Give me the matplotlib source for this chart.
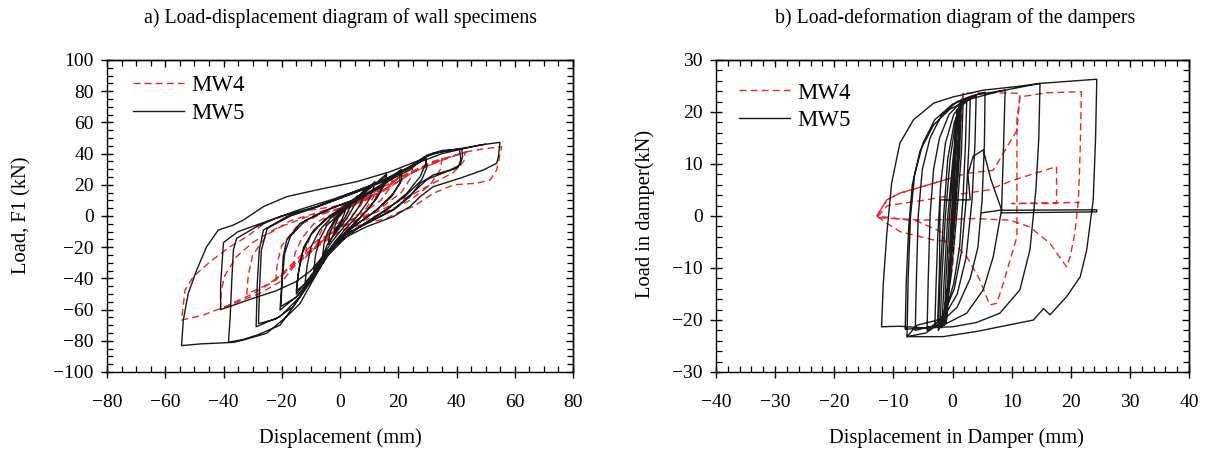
import matplotlib
matplotlib.use("Agg")
import matplotlib.pyplot as plt
from matplotlib.ticker import MultipleLocator, NullFormatter

plt.rcParams['font.family'] = ['Liberation Serif', 'DejaVu Serif']
plt.rcParams['axes.linewidth'] = 1.0

# ---------------- data: (displacement mm, load kN) traces ----------------
# a) wall specimens
wall_mw5 = [
    (0, 0), (1, 3), (2, 5.5), (1.6, 2), (0.5, -3), (-1, -7), (-2, -10), (-1.7, -6), (-0.8, -2), (0, 1),
    (2.5, 6.5), (4, 9.5), (3.5, 6), (2, 0), (0, -6), (-2, -11), (-4, -18), (-3.6, -12), (-2.5, -6), (-1, -1), (1, 3.5),
    (3, 7), (6, 13), (5.4, 8.5), (3.5, 2), (1, -5), (-2, -12), (-4.5, -19), (-6, -26), (-5.5, -18), (-4.2, -10), (-2, -3), (0, 1.5), (2, 5),
    (5, 10), (9, 18), (8.3, 13), (6.5, 6), (3.5, -2), (0, -10), (-3, -17), (-6, -26), (-9, -35), (-8.4, -25), (-7, -15), (-4.5, -6), (-1, 0), (3, 6),
    (7, 13), (12, 22), (11.3, 16.5), (9.5, 9), (6, 0), (2, -8), (-2, -17), (-6, -28), (-9.5, -37), (-12, -43), (-11.3, -32), (-10, -20), (-7, -9), (-3, -1), (2, 5),
    (8, 14), (16, 27), (15.2, 21), (13, 13), (9.5, 4), (5, -5), (0, -14), (-5, -26), (-10, -39), (-15, -50), (-14.4, -38), (-13, -24), (-10, -12), (-5, -2), (1, 6),
    (8, 15), (16, 26), (15.2, 20), (12.5, 11), (8, 1), (3, -8), (-2, -18), (-7, -31), (-11, -42), (-15, -48), (-14.2, -35), (-12.5, -20), (-9, -9), (-4, -1), (2, 6),
    (8, 12), (14, 19), (21, 30), (21.2, 23), (18.3, 14.5), (12.6, 3.8), (4.6, -6.8), (-3.4, -21.8), (-9.2, -38.9), (-14.9, -51.7), (-20.6, -60.3),
    (-20, -43), (-19.5, -26), (-18.3, -15.4), (-13.7, -4.7), (-4.6, 3.8), (4.6, 10.3),
    (13.7, 18), (20.5, 28), (20.6, 21), (17.5, 12), (11, 1.5), (3, -9), (-4.5, -24), (-10, -41), (-15, -52), (-20.3, -58),
    (-19.8, -40), (-19, -24), (-17, -13), (-12, -3), (-3, 5), (6, 11),
    (14.9, 21), (24, 29.5), (29.2, 38), (29.5, 33.8), (27.5, 25.2), (22.9, 14.5), (16, 3.8), (6.9, -6.8), (-2.3, -19.7), (-8, -34.6),
    (-13.7, -51.7), (-20.6, -64.5), (-28.8, -71), (-28.4, -43), (-27.7, -21.8), (-26.3, -9), (-18.3, -0.4), (-8, 6), (4.6, 14.5),
    (14.9, 22), (24, 31), (29.5, 37), (29.8, 31), (28, 23), (22, 12), (14, 2), (4, -10), (-4, -25), (-10, -42), (-16, -58), (-22, -66),
    (-28, -69), (-27.6, -45), (-27, -22), (-25, -8), (-17, 0), (-6, 7), (5, 15),
    (14.9, 23), (24, 31.6), (29.8, 39), (35, 42), (41.8, 43), (42.1, 38), (41.2, 32.7), (37.8, 29.5), (32, 26.3), (27.5, 21), (24, 12.4),
    (18.3, 3.8), (9.2, -4.7), (0, -13.3), (-5.7, -26), (-10.3, -41), (-16, -58), (-20.6, -70), (-28, -76), (-33, -79), (-38.3, -81),
    (-37.7, -64.6), (-37.2, -43), (-36.6, -21.8), (-35.5, -14.3), (-28.6, -6.8), (-20.6, -0.4), (-8, 6), (3.4, 14.5), (14.9, 23),
    (24, 31.6), (30, 38.5), (35.5, 41.5), (41, 43),
    (41.5, 36), (40.5, 31), (36, 28), (30, 23.5), (25, 15), (19, 5), (10, -4), (1, -13), (-5, -24), (-10, -35), (-15, -42), (-22, -48),
    (-28.6, -52), (-41, -60), (-41, -45), (-40.5, -30), (-40, -17), (-35, -10), (-26, -4), (-14, 4), (-2, 11), (10, 19), (20, 27),
    (28, 35), (35, 40), (42, 43),
    (48, 45.5), (54.9, 47.2), (54.4, 38), (53.8, 33.8), (49.2, 29.5), (41.2, 24.2), (32, 18.8), (27.5, 12.4), (24, 6), (18.3, -0.4),
    (9.2, -6.8), (0, -15.4), (-4.6, -26), (-9.2, -41), (-13.7, -56), (-18.3, -64.5), (-25.2, -75.2), (-33.2, -79.5), (-36.6, -81),
    (-48, -82), (-54.4, -83.1), (-53.8, -66.7), (-52.1, -49.6), (-49.2, -34.6), (-45.8, -19.7), (-41.8, -9), (-36.6, -5.8),
    (-33.2, -2.6), (-26.3, 6), (-18.3, 12.4), (-8, 16.7), (5.7, 22), (17.2, 28.4), (27.5, 35.9), (32, 40.2), (41.2, 43.2), (50, 46),
]

wall_mw4 = [
    (0, 0), (2, 4), (4, 7), (3.5, 4), (1.5, -1), (-1, -5), (-3, -9), (-4, -12), (-3.5, -8), (-2, -3), (0, 1), (2, 4),
    (5, 8), (8, 12), (7.5, 8), (5, 2), (1, -4), (-3, -10), (-6, -16), (-8, -20), (-7.5, -14), (-6, -8), (-3, -2), (1, 3), (5, 7),
    (9, 12), (12, 17), (11.5, 12), (9, 5), (4, -2), (-1, -8), (-6, -16), (-10, -23), (-12, -27), (-11.5, -20), (-10, -12), (-6, -4), (-1, 2), (5, 7),
    (12, 14), (18, 25), (17.5, 19), (14, 10), (8, 2), (1, -6), (-5, -14), (-11, -24), (-16, -32), (-15.5, -24), (-13, -14), (-9, -5), (-3, 1), (6, 8),
    (15, 17), (25, 32), (24.5, 25), (21, 15), (14, 5), (5, -3), (-4, -12), (-11, -23), (-17, -33), (-22, -40), (-21.5, -30), (-20, -19),
    (-15, -7), (-8, 0), (2, 6), (12, 12),
    (20, 24), (28, 31), (35, 37), (34.5, 30), (31, 20), (24, 10), (15, 2), (5, -5), (-5, -15), (-13, -28), (-20, -38), (-26, -45), (-32, -50),
    (-31.5, -38), (-30, -25), (-25, -12), (-17, -3), (-8, 2), (3, 8), (15, 16),
    (25, 28), (34, 35), (43, 41), (42.5, 35), (39, 28), (31, 20), (22, 11), (12, 2), (2, -6), (-8, -16), (-15, -28), (-22, -41), (-30, -50),
    (-36, -55), (-41, -60), (-40.8, -48), (-39.5, -38), (-35.5, -26), (-30, -17), (-22, -8), (-12, -1), (0, 5), (12, 13), (25, 28), (35, 36), (43, 41),
    (49, 43), (55.5, 44.4), (53.8, 29.5), (51.5, 23), (46.9, 21), (39, 20), (32, 14.5), (25.2, 6), (20.6, 2.8), (16, -1.5), (8, -5), (0, -10),
    (-8, -20), (-14.9, -30.3), (-19.5, -41), (-27.5, -49.6), (-37.8, -57), (-46.9, -63.5), (-54.4, -66.7), (-53.2, -47.4), (-50.4, -38.9),
    (-44.6, -29.3), (-37.8, -19.7), (-32, -13.3), (-25.2, -3.6), (-18.3, 0.6), (-10.3, 3.8), (-2.3, 6), (9.2, 12.4), (20.6, 25), (32, 35), (43.5, 41),
]

# b) dampers
damper_mw5 = [
    (0, 0), (0.3, 10), (0.6, 18), (0.8, 20.5), (0.5, 12), (0, 0), (-0.5, -12), (-0.9, -19), (-1.1, -20.5), (-0.7, -10), (-0.2, 0),
    (0.4, 10), (0.8, 18), (1.1, 21), (0.9, 14), (0.3, 2), (-0.4, -10), (-1, -18), (-1.4, -21), (-1.1, -12), (-0.5, 0),
    (0.3, 12), (0.9, 19), (1.3, 21.5), (1.0, 12), (0.2, -2), (-0.6, -13), (-1.3, -19), (-1.8, -21.5), (-1.4, -12), (-0.8, 0),
    (0, 10), (0.7, 18), (1.5, 21.8), (1.2, 12), (0.4, 0), (-0.6, -12), (-1.5, -19), (-2.1, -21.5), (-1.8, -12), (-1.2, 0),
    (-0.4, 11), (0.6, 18.5), (1.8, 22), (1.5, 12), (0.7, 0), (-0.3, -12), (-1.2, -19), (-2.4, -22), (-2.1, -12), (-1.5, 0),
    (-0.8, 11), (0.3, 18), (1.3, 21), (2.4, 22), (2.2, 14), (1.8, 4), (1.2, -6), (0.2, -13), (-1.2, -18.5), (-2.3, -20.7), (-3, -21.5),
    (-2.8, -14), (-2.5, -4), (-2, 6), (-1.2, 14), (0.2, 19.5), (1.5, 21.5), (3, 22.5),
    (2.8, 14), (2.3, 3), (1.5, -7), (0.3, -14), (-1.5, -19), (-3, -21), (-4.3, -22), (-4.1, -12), (-3.8, 0), (-3.2, 9), (-2.2, 15),
    (-0.6, 19.5), (1.5, 22), (4, 23),
    (3.8, 14), (3.3, 3), (2.3, -8), (0.8, -15), (-1.5, -19.5), (-3.5, -21.2), (-6.3, -22), (-6.1, -12), (-5.8, 0), (-5.1, 9), (-3.8, 15),
    (-1.8, 19.5), (0.8, 22), (3, 23), (5.5, 23.8),
    (5.4, 14), (5, 3), (4.3, -6), (3, -12), (0.8, -17.5), (-2, -20.5), (-4.5, -22.5), (-7.7, -23.2), (-7.5, -12), (-7.1, 0), (-6.4, 8),
    (-5, 14), (-3, 18.5), (0, 21.5), (4, 23.3), (8.9, 24.2),
    (8.6, 12), (8.3, 1.2), (6.9, -7.8), (5.2, -14.2), (2.4, -18.7), (-2.1, -21.3), (-5, -21.5), (-8, -21.8), (-7.8, -12), (-7.4, -2),
    (-6.8, 6), (-5.5, 12.5), (-3.2, 17.5), (-0.5, 20.5), (3, 22.5), (8, 24), (14.8, 25.5),
    (14.6, 15), (14.1, 5), (13.1, -6.5), (11.4, -14.2), (8, -18.7), (4, -20.5), (0, -21.3), (-5, -21.5), (-9, -21.2), (-12, -21.3),
    (-11.7, -12.9), (-11.1, -3.3), (-10.3, 6.3), (-8.9, 14), (-6.6, 18.5), (-3.2, 21.7), (0.1, 22.9), (5.2, 24.2), (10.9, 24.9),
    (14.8, 25.5), (24.4, 26.3),
    (24.2, 15), (23.8, 3.1), (22.7, -6.5), (21.6, -11.7), (19.3, -15.5), (16.5, -19), (15.4, -17.8), (13.7, -20), (8, -21.3),
    (4.1, -22.2), (-1.6, -23.2), (-7.7, -23.2), (-6, -21), (-2.5, -20), (-2.2, -10), (-2.1, 3.1), (3, 3.1), (2.6, 8), (3.5, 11.5),
    (5.2, 12.7), (6.5, 7), (8.3, 1.2), (8.3, 0.6), (24.4, 0.8), (24.4, 1.2), (8, 1.1), (4.9, 0.6),
]

damper_mw4 = [
    (0, 0), (0.3, 8), (0.7, 16), (1.2, 21), (1.8, 23.6), (1.2, 15), (0.8, 6), (0.4, -4), (0, -10), (-0.5, -13),
    (-0.8, -6), (-2, -3), (-6, -1), (-12.8, 0), (-11.1, 3.1), (-8.9, 4.4), (-3.2, 6.3), (0.3, 7.5), (0.8, 14), (1.2, 20), (2, 23.6),
    (6, 23.7), (11.4, 23.6),
    (11.2, 21), (10.9, 19.1), (10.9, 10), (10.9, 0), (10.9, -4), (9.4, -9.8), (8.6, -12.9), (7.5, -16.8), (6.3, -17.1), (4.5, -12),
    (2.4, -7.8), (0, -5), (-3.2, -4.6), (-8.9, -3), (-11.1, -1.4), (-12.8, 0),
    (-11.1, 3.1), (-8.9, 4.4), (-3.2, 6.3), (2.4, 8.2), (6.9, 8.8), (10.9, 16.5), (11.4, 22.9), (16, 23.7), (21.8, 23.9),
    (21.6, 12.7), (21.3, 3.1), (20.7, -3.3), (19.9, -7.8), (19.3, -9.8), (16.5, -5.3), (13.1, -2.1), (9.7, -0.8), (4, -0.5),
    (-5, -0.8), (-12.8, -0.3),
    (-11, 2), (-5, 3), (0, 4), (6, 5), (10.3, 6.9), (17.6, 9.5), (17.6, 2.4), (10, 2.4), (21.5, 2.6),
]

RED = '#e8262c'
BLACK = '#1a1a1a'


def unzip(trace):
    return [p[0] for p in trace], [p[1] for p in trace]


def style_axes(ax, xlim, ylim, xmaj, xmin, ymaj, ymin):
    ax.set_xlim(*xlim)
    ax.set_ylim(*ylim)
    ax.xaxis.set_major_locator(MultipleLocator(xmaj))
    ax.xaxis.set_minor_locator(MultipleLocator(xmin))
    ax.yaxis.set_major_locator(MultipleLocator(ymaj))
    ax.yaxis.set_minor_locator(MultipleLocator(ymin))
    ax.tick_params(which='major', direction='inout', length=9, width=1.0,
                   labelsize=14, pad=5)
    ax.tick_params(axis='x', which='major', pad=11)
    ax.tick_params(which='minor', direction='in', length=4, width=0.9)
    # inward ticks on the top and right edges
    top = ax.secondary_xaxis('top')
    top.xaxis.set_major_locator(MultipleLocator(xmaj))
    top.xaxis.set_minor_locator(MultipleLocator(xmin))
    top.tick_params(which='major', direction='in', length=5, width=1.0)
    top.tick_params(which='minor', direction='in', length=4, width=0.9)
    top.xaxis.set_major_formatter(NullFormatter())
    right = ax.secondary_yaxis('right')
    right.yaxis.set_major_locator(MultipleLocator(ymaj))
    right.yaxis.set_minor_locator(MultipleLocator(ymin))
    right.tick_params(which='major', direction='in', length=5, width=1.0)
    right.tick_params(which='minor', direction='in', length=4, width=0.9)
    right.yaxis.set_major_formatter(NullFormatter())


W, H = 1209, 457
fig = plt.figure(figsize=(W / 100, H / 100), dpi=100)

ax1 = fig.add_axes([107 / W, 1 - 372 / H, (573 - 107) / W, (372 - 60) / H])
ax2 = fig.add_axes([716 / W, 1 - 372 / H, (1189 - 716) / W, (372 - 60) / H])

x, y = unzip(wall_mw4)
ax1.plot(x, y, color=RED, lw=1.0, dashes=(5, 3), label='MW4', zorder=2)
x, y = unzip(wall_mw5)
ax1.plot(x, y, color=BLACK, lw=1.0, label='MW5', zorder=3)
style_axes(ax1, (-80, 80), (-100, 100), 20, 5, 20, 5)

x, y = unzip(damper_mw4)
ax2.plot(x, y, color=RED, lw=1.0, dashes=(5, 3), label='MW4', zorder=2)
x, y = unzip(damper_mw5)
ax2.plot(x, y, color=BLACK, lw=1.0, label='MW5', zorder=3)
style_axes(ax2, (-40, 40), (-30, 30), 10, 2, 10, 2)

for ax, anchor in ((ax1, (0.056, 0.953)), (ax2, (0.049, 0.928))):
    ax.legend(loc='upper left', bbox_to_anchor=anchor, frameon=False,
              fontsize=16.5, handlelength=2.2, handletextpad=0.35,
              labelspacing=0.3, borderaxespad=0, borderpad=0)

fig.text(340 / W, 1 - 18 / H, 'a) Load-displacement diagram of wall specimens',
         ha='center', va='center', fontsize=14.3)
fig.text(955 / W, 1 - 18 / H, 'b) Load-deformation diagram of the dampers',
         ha='center', va='center', fontsize=14.3)
fs = 14.8
fig.text(340 / W, 1 - 438 / H, 'Displacement (mm)', ha='center', va='center', fontsize=fs)
fig.text(956 / W, 1 - 438 / H, 'Displacement in Damper (mm)', ha='center', va='center', fontsize=fs)
fig.text(22 / W, 1 - 215 / H, 'Load, F1 (kN)', ha='center', va='center',
         rotation=90, fontsize=fs)
fig.text(645 / W, 1 - 214 / H, 'Load in damper(kN)', ha='center', va='center',
         rotation=90, fontsize=fs)

fig.savefig('out.png', dpi=100)
